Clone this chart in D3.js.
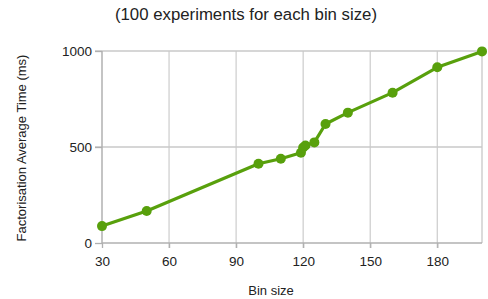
<!DOCTYPE html>
<html><head><meta charset="utf-8">
<script src="https://cdn.jsdelivr.net/npm/d3@7"></script>
<style>body{margin:0;background:#fff}svg{display:block;font-family:"Liberation Sans",Arial,sans-serif}</style>
</head><body>
<svg id="c" width="488" height="299"></svg>
<script>
const binSizes = [30, 50, 100, 110, 119, 120, 121, 125, 130, 140, 160, 180, 200];
const avgTimes = [88, 167, 413, 439, 470, 497, 508, 524, 620, 679, 783, 915, 998];
const xTicks = [30, 60, 90, 120, 150, 180];
const yTicks = [0, 500, 1000];
const title = "(100 experiments for each bin size)";
const xLabel = "Bin size";
const yLabel = "Factorisation Average Time (ms)";

const svg = d3.select("#c");
const x = d3.scaleLinear().domain([30, 200]).range([102, 482]);
const y = d3.scaleLinear().domain([0, 1000]).range([243, 51]);
const green = "#58a00c";

// grid
svg.append("g").selectAll("line").data(xTicks.slice(1)).join("line")
  .attr("x1", d => x(d)).attr("x2", d => x(d)).attr("y1", y(1000)).attr("y2", y(0) + 5)
  .attr("stroke", "#d0d0d0").attr("stroke-width", 1.3);
svg.append("line").attr("x1", x(200)).attr("x2", x(200)).attr("y1", y(1000)).attr("y2", y(0))
  .attr("stroke", "#c8c8c8").attr("stroke-width", 1.3);
svg.append("g").selectAll("line").data(yTicks.slice(1)).join("line")
  .attr("x1", x(30) - 7).attr("x2", x(200)).attr("y1", d => y(d)).attr("y2", d => y(d))
  .attr("stroke", "#c8c8c8").attr("stroke-width", 1.3);

// axes
const xAxis = svg.append("g").attr("transform", `translate(0,${y(0)})`)
  .call(d3.axisBottom(x).tickValues(xTicks).tickSize(5).tickPadding(8).tickFormat(d3.format("d")));
const yAxis = svg.append("g").attr("transform", `translate(${x(30)},0)`)
  .call(d3.axisLeft(y).tickValues(yTicks).tickSize(7).tickPadding(3).tickFormat(d3.format("d")));
[xAxis, yAxis].forEach(g => {
  g.select(".domain").attr("stroke", "#b0b0b0").attr("stroke-width", 1.5);
  g.selectAll(".tick line").attr("stroke", "#b0b0b0").attr("stroke-width", 1.3);
  g.selectAll("text").attr("font-size", 13.5).attr("fill", "#222").attr("font-family", "Liberation Sans, Arial, sans-serif");
});
xAxis.select(".domain").attr("d", `M${x(30)},0H${x(200)}`);
yAxis.select(".domain").attr("d", `M0,${y(0)}V${y(1000)}`);

// line
const pts = binSizes.map((b, i) => [b, avgTimes[i]]);
svg.append("path").datum(pts)
  .attr("fill", "none").attr("stroke", green).attr("stroke-width", 3.2).attr("stroke-linejoin", "round")
  .attr("d", d3.line().x(d => x(d[0])).y(d => y(d[1])));
svg.append("g").selectAll("circle").data(pts).join("circle")
  .attr("cx", d => x(d[0])).attr("cy", d => y(d[1])).attr("r", 5).attr("fill", green);

// labels
svg.append("text").attr("x", 246).attr("y", 20).attr("text-anchor", "middle")
  .attr("font-size", 16.8).attr("fill", "#222").text(title);
svg.append("text").attr("x", 271).attr("y", 295).attr("text-anchor", "middle")
  .attr("font-size", 13).attr("fill", "#222").text(xLabel);
svg.append("text").attr("transform", `translate(26,148) rotate(-90)`).attr("text-anchor", "middle")
  .attr("font-size", 13).attr("fill", "#222").text(yLabel);
</script>
</body></html>
